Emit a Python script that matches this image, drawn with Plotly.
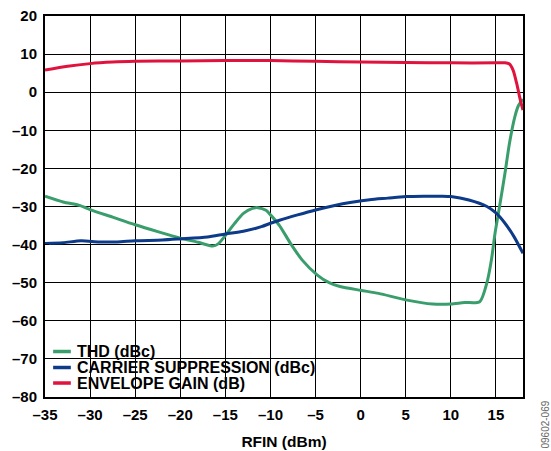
import plotly.graph_objects as go

# ---- data ----
thd_x = [-35, -33, -31.2, -30, -27.5, -25, -22.5, -20, -18, -16.4, -15.8, -15, -14, -13, -12, -11.4, -10.5, -10, -9, -7.8, -6.5, -4.8, -3.5, -2.3, 0, 2, 5, 8, 10, 11.5, 13.2, 14, 14.5, 14.9, 15.4, 16, 16.5, 17.1, 17.5, 18]
thd_y = [-27.3, -28.8, -29.7, -30.8, -32.8, -34.8, -36.6, -38.3, -39.4, -40.4, -39.8, -37.6, -34.5, -31.8, -30.5, -30.3, -31.0, -32.2, -35.0, -39.6, -44.0, -48.0, -50.0, -51.0, -52.0, -52.8, -54.5, -55.6, -55.6, -55.2, -55.0, -50.0, -44.0, -37.0, -30.0, -21.3, -13.4, -6.4, -3.5, -1.8]

cs_x = [-35, -33, -31, -29, -27, -25, -22, -20, -17, -15, -13, -11, -10, -9, -7, -5, -3, -1, 1, 3, 5, 7, 9, 10, 12, 14, 15, 16, 17, 18]
cs_y = [-39.7, -39.5, -39.0, -39.3, -39.3, -39.0, -38.8, -38.5, -38.0, -37.2, -36.5, -35.3, -34.4, -33.6, -32.2, -30.9, -29.8, -28.9, -28.2, -27.8, -27.4, -27.3, -27.3, -27.4, -28.3, -30.0, -31.7, -34.4, -37.9, -42.3]

eg_x = [-35, -32.5, -30, -27.5, -25, -20, -15, -10, -5, 0, 5, 10, 15, 16, 16.5, 16.9, 17.3, 17.7, 18]
eg_y = [5.8, 6.8, 7.5, 7.9, 8.1, 8.2, 8.3, 8.3, 8.1, 7.9, 7.8, 7.7, 7.7, 7.7, 7.4, 5.8, 2.3, -2.0, -4.7]

x_ticks = [-35, -30, -25, -20, -15, -10, -5, 0, 5, 10, 15]
x_tick_text = ["–35", "–30", "–25", "–20", "–15", "–10", "–5", "0", "5", "10", "15"]
y_ticks = [-80, -70, -60, -50, -40, -30, -20, -10, 0, 10, 20]
y_tick_text = ["–80", "–70", "–60", "–50", "–40", "–30", "–20", "–10", "0", "10", "20"]

names = ["THD (dBc)", "CARRIER SUPPRESSION (dBc)", "ENVELOPE GAIN (dB)"]
colors = ["#3A9E6C", "#0D3A89", "#E0123E"]

FONT = "Liberation Sans, Arial, Helvetica, sans-serif"

fig = go.Figure()
for xs, ys, nm, col in [(thd_x, thd_y, names[0], colors[0]),
                        (cs_x, cs_y, names[1], colors[1]),
                        (eg_x, eg_y, names[2], colors[2])]:
    fig.add_trace(go.Scatter(x=xs, y=ys, name=nm, mode="lines", showlegend=False,
                             line=dict(color=col, width=3, shape="spline", smoothing=0.7)))

axis_common = dict(showgrid=True, gridcolor="black", gridwidth=1,
                   showline=True, linecolor="black", linewidth=2, mirror=True,
                   ticks="inside", ticklen=4, tickcolor="black", zeroline=False,
                   automargin=False,
                   tickfont=dict(family=FONT, size=15, color="black"))

fig.update_xaxes(range=[-35, 18], tickvals=x_ticks, ticktext=["<b>%s</b>" % t for t in x_tick_text],
                 ticklabelstandoff=3,
                 title=dict(text="<b>RFIN (dBm)</b>", font=dict(family=FONT, size=15.5, color="black"), standoff=14),
                 **axis_common)
fig.update_yaxes(range=[-80, 20], tickvals=y_ticks, ticktext=["<b>%s</b>" % t for t in y_tick_text],
                 ticklabelstandoff=3, **axis_common)

# white panel behind the legend (above grid, below axes/ticks)
fig.add_shape(type="rect", xref="paper", yref="paper", x0=0, x1=0.58, y0=0, y1=0.176,
              fillcolor="white", line=dict(width=0), layer="between")

# manual legend (tight row spacing like the reference)
leg_y = [0.1194, 0.0774, 0.0367]
for nm, col, yy in zip(names, colors, leg_y):
    fig.add_shape(type="line", xref="paper", yref="paper", x0=0.017, x1=0.054, y0=yy, y1=yy,
                  line=dict(color=col, width=3.5), layer="above")
    fig.add_annotation(text="<b>%s</b>" % nm, xref="paper", yref="paper", x=0.063, y=yy,
                       xanchor="left", yanchor="middle", showarrow=False,
                       font=dict(family=FONT, size=16, color="black"))

fig.add_annotation(text="09602-069", xref="paper", yref="paper", x=1.045, y=-0.0735,
                   showarrow=False, textangle=-90, xanchor="center", yanchor="middle",
                   font=dict(family=FONT, size=10, color="#666666"))

fig.update_layout(
    width=551, height=451,
    margin=dict(l=45, r=28, t=16, b=54),
    paper_bgcolor="white", plot_bgcolor="white",
    font=dict(family=FONT, color="black"),
    showlegend=False,
)

fig.write_html("out.html", config={"displayModeBar": False},
               post_script="document.body.style.margin='0';document.body.style.overflow='hidden';")
